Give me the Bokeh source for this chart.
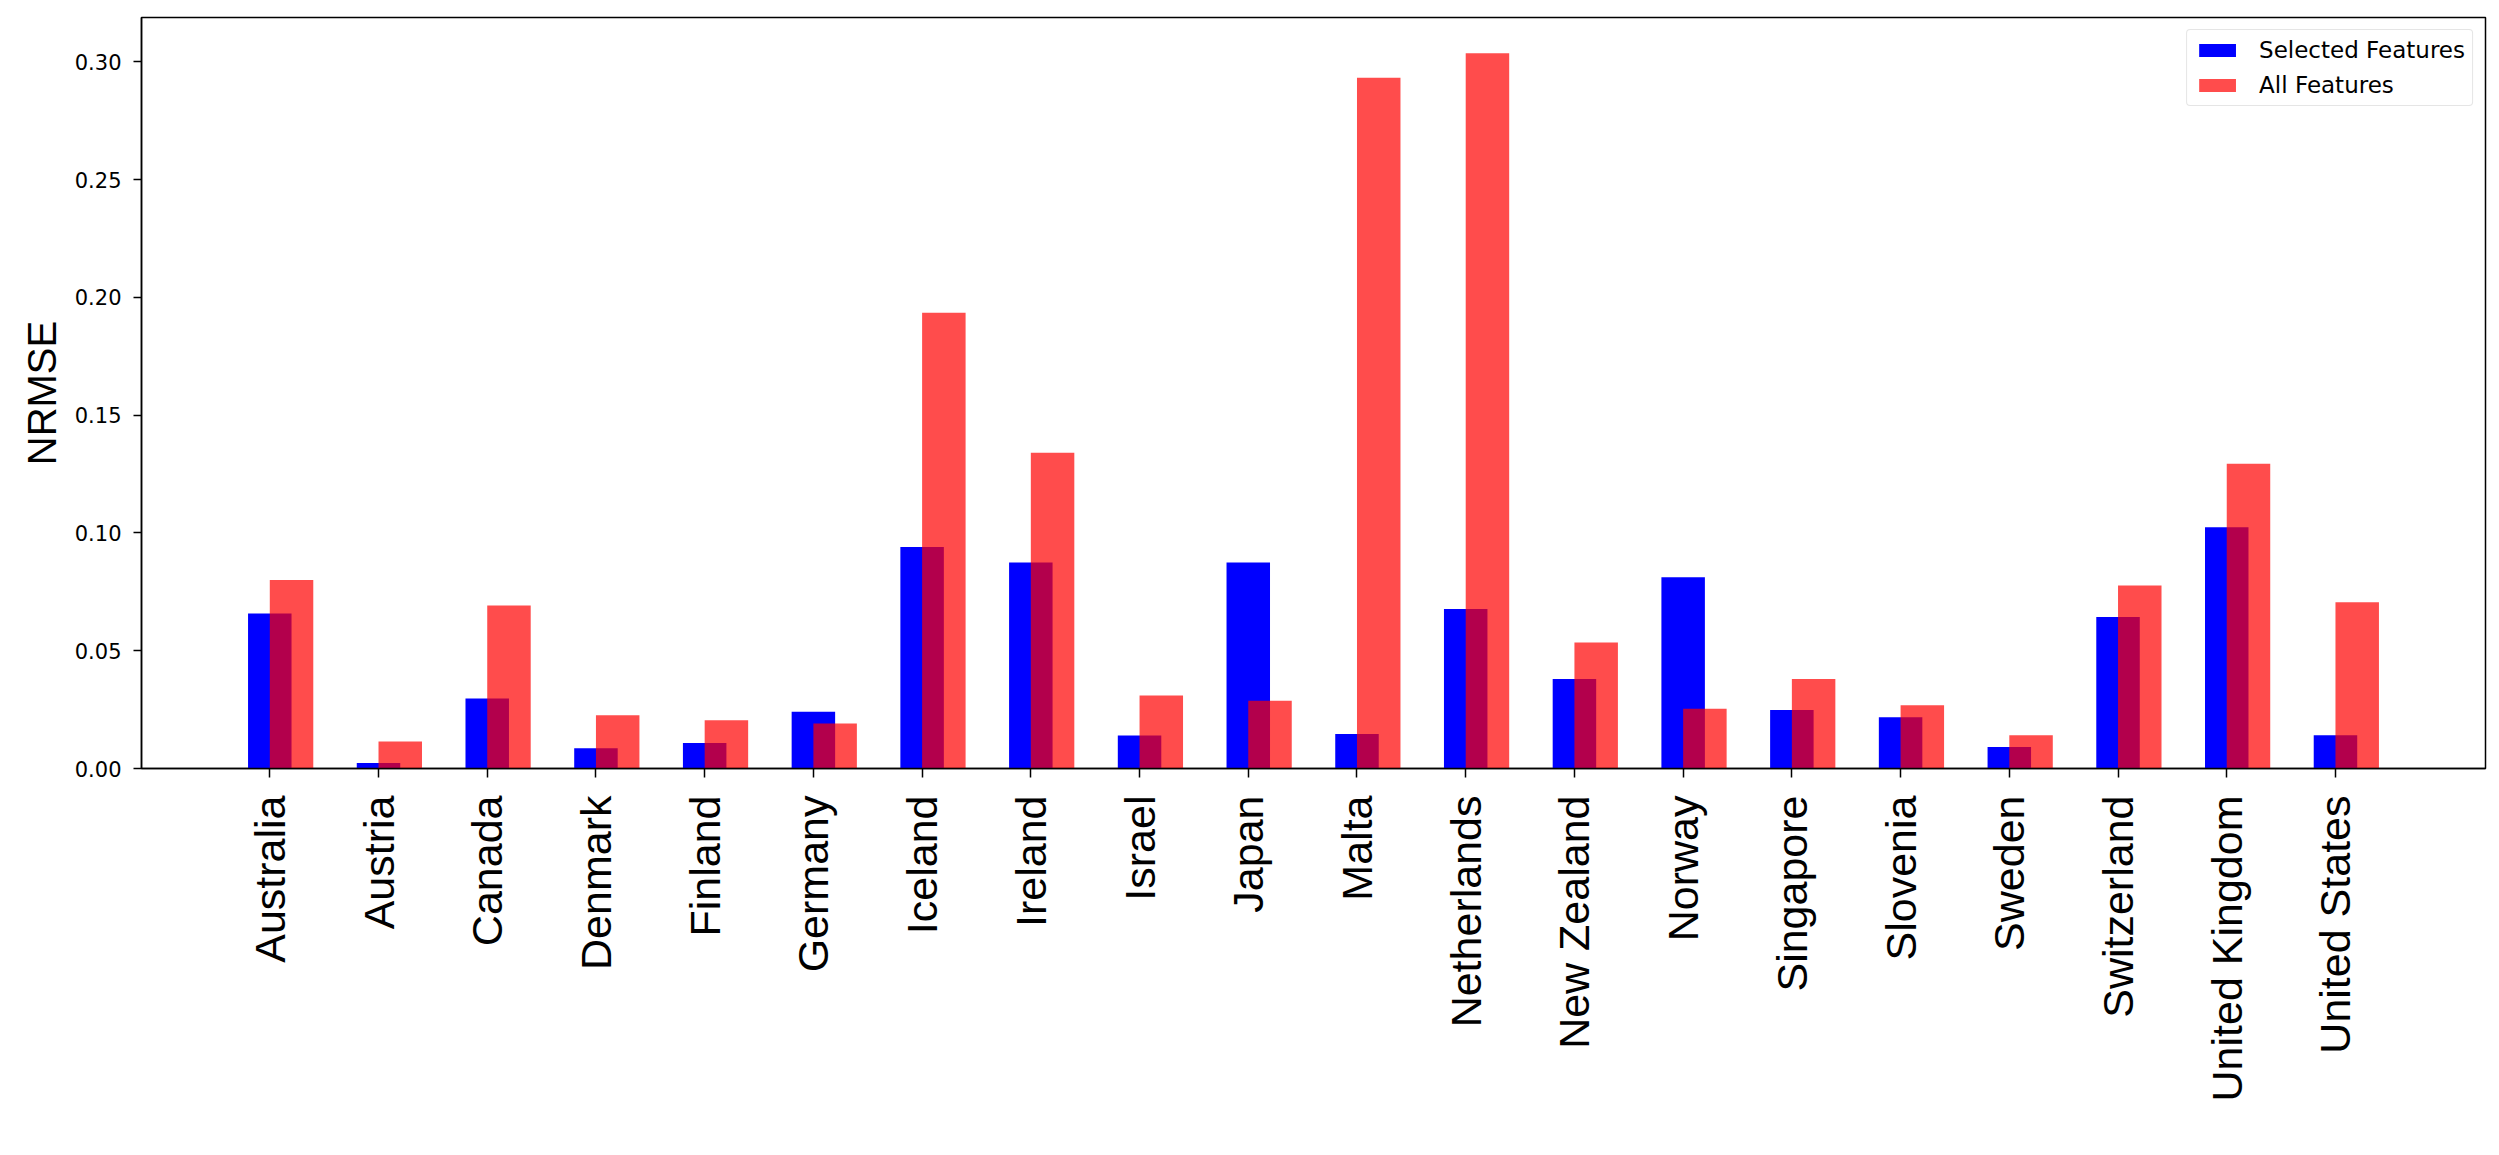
import math
from bokeh.plotting import figure
from bokeh.models import Range1d, FixedTicker, ColumnDataSource, Legend, LegendItem
from bokeh.transform import dodge
from bokeh.embed import file_html
from bokeh.resources import INLINE

countries = ["Australia", "Austria", "Canada", "Denmark", "Finland", "Germany",
             "Iceland", "Ireland", "Israel", "Japan", "Malta", "Netherlands",
             "New Zealand", "Norway", "Singapore", "Slovenia", "Sweden",
             "Switzerland", "United Kingdom", "United States"]
selected_features = [0.0658, 0.0023, 0.0297, 0.0086, 0.0108, 0.0241, 0.0940, 0.0874,
                     0.0140, 0.0874, 0.0146, 0.0677, 0.0380, 0.0812, 0.0248, 0.0218,
                     0.0091, 0.0643, 0.1024, 0.0141]
all_features = [0.0800, 0.0115, 0.0692, 0.0226, 0.0205, 0.0191, 0.1935, 0.1340,
                0.0310, 0.0288, 0.2932, 0.3036, 0.0535, 0.0254, 0.0380, 0.0269,
                0.0141, 0.0777, 0.1294, 0.0706]
y_ticks = [0.00, 0.05, 0.10, 0.15, 0.20, 0.25, 0.30]
y_tick_labels = ["0.00", "0.05", "0.10", "0.15", "0.20", "0.25", "0.30"]

n = len(countries)
xs = list(range(n))
src = ColumnDataSource(dict(x=xs, sel=selected_features, allf=all_features))

p = figure(width=2499, height=1155, output_backend="svg", toolbar_location=None,
           x_range=Range1d(-1.18, n - 1 + 0.4 + 0.98),
           y_range=Range1d(0, max(all_features) * 1.05),
           min_border_left=141, min_border_right=14, min_border_top=17,
           min_border_bottom=387)
p.xgrid.visible = False
p.ygrid.visible = False
p.outline_line_color = "black"
p.outline_line_width = 1.5
p.background_fill_color = "white"

r_sel = p.vbar(x="x", top="sel", width=0.4, source=src, fill_color="blue",
               line_color=None)
r_all = p.vbar(x=dodge("x", 0.2), top="allf", width=0.4, source=src,
               fill_color="red", fill_alpha=0.7, line_color=None)

# x axis
xa = p.xaxis[0]
xa.ticker = FixedTicker(ticks=xs)
xa.major_label_overrides = {i: c for i, c in zip(xs, countries)}
xa.major_label_orientation = math.pi / 2
xa.major_label_text_font = "Liberation Sans"
xa.major_label_text_font_size = "43px"
xa.major_label_text_color = "black"
xa.major_label_standoff = 18
xa.minor_tick_line_color = None
xa.major_tick_in = 0
xa.major_tick_out = 9
xa.major_tick_line_color = "black"
xa.major_tick_line_width = 1.5
xa.axis_line_color = "black"
xa.axis_line_width = 1.5

# y axis
ya = p.yaxis[0]
ya.ticker = FixedTicker(ticks=y_ticks)
ya.major_label_overrides = {t: l for t, l in zip(y_ticks, y_tick_labels)}
ya.major_label_text_font = "DejaVu Sans"
ya.major_label_text_font_size = "21px"
ya.major_label_text_color = "black"
ya.major_label_standoff = 12
ya.minor_tick_line_color = None
ya.major_tick_in = 0
ya.major_tick_out = 8
ya.major_tick_line_color = "black"
ya.major_tick_line_width = 1.5
ya.axis_line_color = "black"
ya.axis_line_width = 1.5
ya.axis_label = "NRMSE"
ya.axis_label_text_font = "Liberation Sans"
ya.axis_label_text_font_size = "40px"
ya.axis_label_text_font_style = "normal"
ya.axis_label_text_color = "black"
ya.axis_label_standoff = 8

legend = Legend(items=[LegendItem(label="Selected Features", renderers=[r_sel]),
                       LegendItem(label="All Features", renderers=[r_all])],
                location="top_right")
legend.margin = 12
legend.padding = 7
legend.spacing = 9
legend.glyph_width = 46
legend.glyph_height = 16
legend.label_height = 23
legend.label_standoff = 19
legend.label_text_font = "DejaVu Sans"
legend.label_text_font_size = "23px"
legend.label_text_color = "black"
legend.border_line_color = "#cccccc"
legend.border_line_width = 1.5
legend.border_radius = 4
legend.background_fill_alpha = 0.8
p.add_layout(legend)

open("out.html", "w").write(file_html(p, INLINE))
